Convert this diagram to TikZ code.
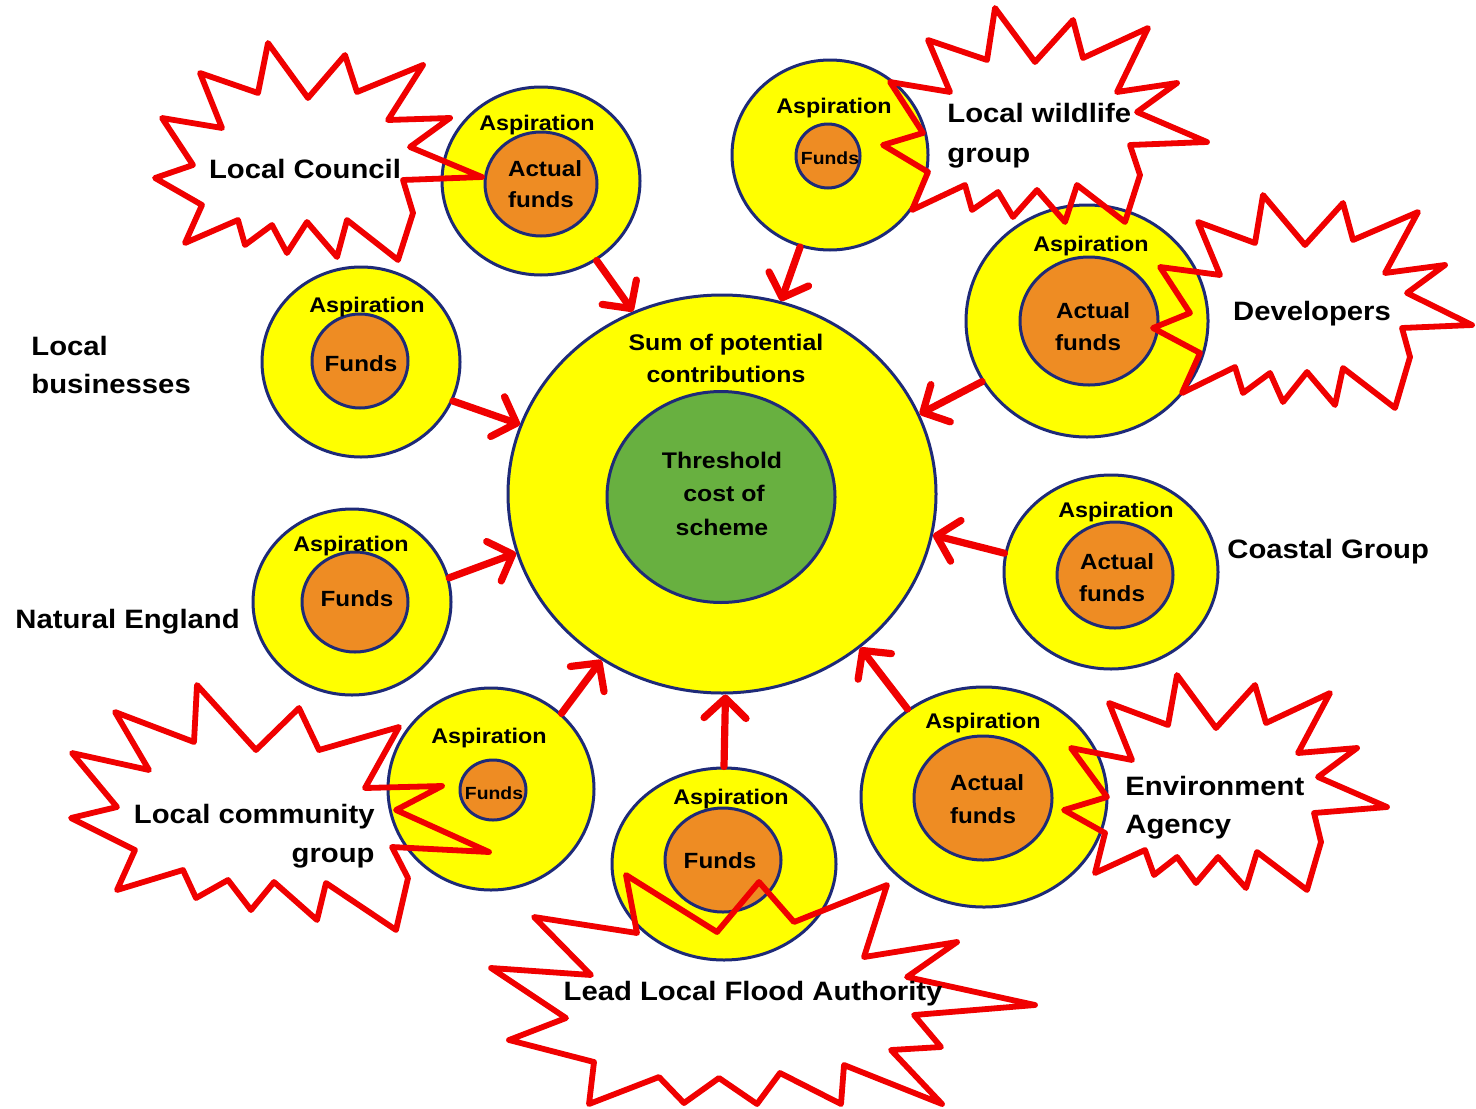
\documentclass[tikz,border=0pt]{standalone}
\usepackage{fontspec}
\newfontfamily\lab[FakeStretch=1.1]{Liberation Sans}
\usetikzlibrary{shapes.geometric,arrows.meta}
\definecolor{yel}{RGB}{255,255,0}
\definecolor{navy}{RGB}{30,42,120}
\definecolor{org}{RGB}{238,140,35}
\definecolor{grn}{RGB}{104,176,64}
\definecolor{brd}{RGB}{240,0,0}
\begin{document}
\begin{tikzpicture}[x=0.5pt,y=-0.5pt,
  outer/.style={ellipse,draw=navy,line width=1.5pt,fill=yel,inner sep=0pt},
  innr/.style={ellipse,draw=navy,line width=1.5pt,fill=org,inner sep=0pt},
  core/.style={ellipse,draw=navy,line width=1.5pt,fill=grn,inner sep=0pt},
  arr/.style={draw=brd,line width=3.6pt,line cap=round,
    -{Straight Barb[length=10pt,width=21pt,line cap=round,line join=round]}},
  burst/.style={draw=brd,line width=2.9pt,line join=round},
  asp/.style={anchor=base,inner sep=0pt,font=\lab\bfseries\fontsize{10.6}{12}\selectfont},
  ctx/.style={anchor=base,inner sep=0pt,font=\lab\bfseries\fontsize{11}{13}\selectfont},
  small/.style={anchor=base,inner sep=0pt,font=\lab\bfseries\fontsize{8.8}{10}\selectfont},
  cen txt/.style={anchor=base,inner sep=0pt,font=\lab\bfseries\fontsize{11.3}{13}\selectfont},
  lbl/.style={anchor=base,inner sep=0pt,font=\lab\bfseries\fontsize{13.3}{16}\selectfont},
  lblw/.style={lbl,anchor=base west},
  lble/.style={lbl,anchor=base east}]
\useasboundingbox[fill=white] (0,0) rectangle (1476,1108);

% central circles
\node[outer,minimum width=214pt,minimum height=199pt] (cen) at (722,494) {};
\node[core,minimum width=114pt,minimum height=105.5pt] (thr) at (721,497) {};

% satellites
\node[outer,minimum width=99pt,minimum height=94pt] (lc) at (541,181) {};
\node[innr,minimum width=56pt,minimum height=52pt] (lci) at (541,184) {};
\node[outer,minimum width=98pt,minimum height=95pt] (lw) at (830,155) {};
\node[innr,minimum width=32pt,minimum height=32pt] (lwi) at (828,156) {};
\node[outer,minimum width=121pt,minimum height=116pt] (dev) at (1087,321) {};
\node[innr,minimum width=69pt,minimum height=64pt] (devi) at (1089,321) {};
\node[outer,minimum width=99pt,minimum height=95pt] (lb) at (361,362) {};
\node[innr,minimum width=48pt,minimum height=47pt] (lbi) at (360,361) {};
\node[outer,minimum width=99pt,minimum height=93pt] (ne) at (352,602) {};
\node[innr,minimum width=53pt,minimum height=50pt] (nei) at (355,602) {};
\node[outer,minimum width=107pt,minimum height=97pt] (cg) at (1111,572) {};
\node[innr,minimum width=58pt,minimum height=53pt] (cgi) at (1115,575) {};
\node[outer,minimum width=103pt,minimum height=101pt] (lcg) at (491,789) {};
\node[innr,minimum width=33pt,minimum height=30pt] (lcgi) at (493,790) {};
\node[outer,minimum width=112pt,minimum height=96pt] (llfa) at (724,864) {};
\node[innr,minimum width=58pt,minimum height=52pt] (llfai) at (723,860) {};
\node[outer,minimum width=123pt,minimum height=110pt] (ea) at (984,797) {};
\node[innr,minimum width=69pt,minimum height=62pt] (eai) at (983,798) {};

% arrows
\draw[arr] (lc.-55) -- (cen.116);
\draw[arr] (lw.-108) -- (cen.73);
\draw[arr] (dev.-150) -- (cen.22);
\draw[arr] (lb.-23) -- (cen.161);
\draw[arr] (ne.14) -- (cen.-164);
\draw[arr] (cg.170) -- (cen.-11);
\draw[arr] (lcg.47) -- (cen.-126);
\draw[arr] (llfa.90) -- (cen.-89);
\draw[arr] (ea.131) -- (cen.-48);

% starbursts
\draw[burst] (268,43) -- (308,98) -- (345,55) -- (357,92) -- (423,65) -- (388,120) -- (450,118) -- (410,147) -- (482,177) -- (403,180) -- (413,213) -- (398,260) -- (347,220) -- (337,257) -- (307,222) -- (287,253) -- (272,225) -- (245,245) -- (238,220) -- (185,243) -- (202,205) -- (155,178) -- (193,165) -- (162,118) -- (222,128) -- (200,73) -- (258,93) -- cycle;
\draw[burst] (995,8) -- (1035,62) -- (1073,20) -- (1083,58) -- (1148,28) -- (1117,92) -- (1177,83) -- (1137,112) -- (1207,142) -- (1130,145) -- (1140,175) -- (1125,222) -- (1077,185) -- (1065,222) -- (1037,190) -- (1013,217) -- (998,192) -- (972,210) -- (965,185) -- (912,210) -- (928,172) -- (883,145) -- (923,133) -- (890,82) -- (950,92) -- (928,40) -- (987,60) -- cycle;
\draw[burst] (1263,195) -- (1305,245) -- (1343,203) -- (1353,240) -- (1418,212) -- (1385,273) -- (1445,265) -- (1407,293) -- (1472,325) -- (1402,328) -- (1410,357) -- (1395,408) -- (1343,368) -- (1335,405) -- (1307,372) -- (1283,402) -- (1270,373) -- (1243,393) -- (1235,367) -- (1182,393) -- (1200,353) -- (1153,328) -- (1190,313) -- (1160,267) -- (1220,275) -- (1198,222) -- (1255,243) -- cycle;
\draw[burst] (197,685) -- (256,750) -- (299,708) -- (319,750) -- (399,727) -- (365,788) -- (442,786) -- (396,810) -- (489,852) -- (392,847) -- (408,878) -- (396,930) -- (326,883) -- (317,920) -- (274,882) -- (251,910) -- (228,880) -- (196,898) -- (183,870) -- (117,890) -- (135,850) -- (71,818) -- (117,807) -- (72,753) -- (149,770) -- (115,712) -- (194,742) -- cycle;
\draw[burst] (626,875) -- (717,932) -- (759,882) -- (794,922) -- (887,885) -- (864,957) -- (957,942) -- (907,977) -- (1035,1005) -- (914,1015) -- (941,1047) -- (891,1050) -- (942,1104) -- (844,1065) -- (841,1104) -- (780,1073) -- (757,1104) -- (719,1078) -- (684,1103) -- (659,1077) -- (589,1104) -- (594,1062) -- (509,1040) -- (566,1018) -- (491,968) -- (591,975) -- (534,917) -- (637,933) -- cycle;
\draw[burst] (1177,675) -- (1216,728) -- (1255,685) -- (1266,723) -- (1330,693) -- (1298,753) -- (1357,748) -- (1318,777) -- (1387,807) -- (1314,813) -- (1321,842) -- (1307,890) -- (1257,852) -- (1246,888) -- (1218,857) -- (1196,883) -- (1177,857) -- (1154,875) -- (1145,850) -- (1095,873) -- (1105,833) -- (1064,810) -- (1107,797) -- (1071,748) -- (1132,760) -- (1109,703) -- (1168,725) -- cycle;

% central texts
\node[cen txt] (t1) at (726,350) {Sum of potential};
\node[cen txt] (t2) at (726,382) {contributions};
\node[cen txt] (t3) at (722,468) {Threshold};
\node[cen txt] (t4) at (724,501) {cost of};
\node[cen txt] (t5) at (722,535) {scheme};

% circle texts
\node[asp] (a1) at (537,130) {Aspiration};
\node[ctx] (f1a) at (545,176) {Actual};
\node[ctx] (f1b) at (541,207) {funds};
\node[asp] (a2) at (834,113) {Aspiration};
\node[small] (f2) at (830,164) {Funds};
\node[asp] (a3) at (1091,251) {Aspiration};
\node[ctx] (f3a) at (1093,318) {Actual};
\node[ctx] (f3b) at (1088,350) {funds};
\node[asp] (a4) at (367,312) {Aspiration};
\node[ctx] (f4) at (361,371) {Funds};
\node[asp] (a5) at (351,551) {Aspiration};
\node[ctx] (f5) at (357,606) {Funds};
\node[asp] (a6) at (1116,517) {Aspiration};
\node[ctx] (f6a) at (1117,569) {Actual};
\node[ctx] (f6b) at (1112,601) {funds};
\node[asp] (a7) at (489,743) {Aspiration};
\node[small] (f7) at (494,799) {Funds};
\node[asp] (a8) at (731,804) {Aspiration};
\node[ctx] (f8) at (720,868) {Funds};
\node[asp] (a9) at (983,728) {Aspiration};
\node[ctx] (f9a) at (987,790) {Actual};
\node[ctx] (f9b) at (983,823) {funds};

% outer labels
\node[lbl] (L1) at (305,178) {Local Council};
\node[lblw] (L2a) at (947,122) {Local wildlife};
\node[lblw] (L2b) at (947,162) {group};
\node[lbl] (L3) at (1312,320) {Developers};
\node[lblw] (L4a) at (31,355) {Local};
\node[lblw] (L4b) at (31,393) {businesses};
\node[lblw] (L5) at (15,628) {Natural England};
\node[lblw] (L6) at (1227,558) {Coastal Group};
\node[lble] (L7a) at (375,823) {Local community};
\node[lble] (L7b) at (375,862) {group};
\node[lbl] (L8) at (753,1000) {Lead Local Flood Authority};
\node[lblw] (L9a) at (1125,795) {Environment};
\node[lblw] (L9b) at (1125,833) {Agency};
\end{tikzpicture}
\end{document}
